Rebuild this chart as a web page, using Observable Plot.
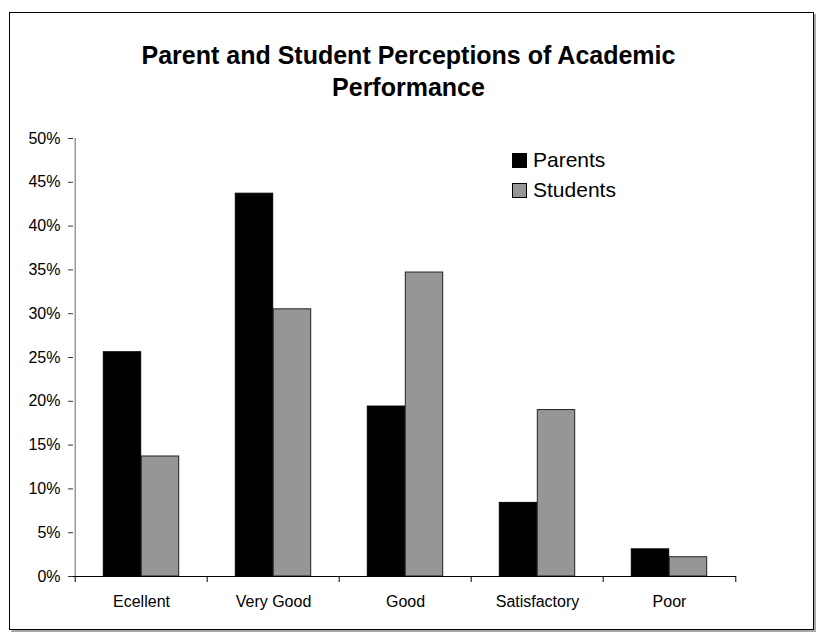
<!DOCTYPE html>
<html>
<head>
<meta charset="utf-8">
<script src="https://cdn.jsdelivr.net/npm/d3@7"></script>
<script src="https://cdn.jsdelivr.net/npm/@observablehq/plot@0.6"></script>
<style>
  html, body { margin: 0; padding: 0; background: #fff; }
  #wrap { position: relative; width: 817px; height: 634px; overflow: hidden; font-family: "Liberation Sans", Arial, sans-serif; }
  #border { position: absolute; left: 9px; top: 12px; width: 803px; height: 616px; border: 1.5px solid #000; box-shadow: 2px 2px 0 #a8a8a8; }
  #title { position: absolute; left: 0; width: 817px; top: 39px; text-align: center; font-weight: bold; font-size: 25px; line-height: 32px; color: #000; }
  #chart { position: absolute; left: 0; top: 0; }
  .leg { position: absolute; left: 512px; font-size: 21px; line-height: 22px; color: #000; display: flex; align-items: center; }
  .sw { width: 15px; height: 15px; border: 1px solid #000; margin-right: 6px; box-sizing: border-box; }
</style>
</head>
<body>
<div id="wrap">
  <div id="border"></div>
  <div id="title">Parent and Student Perceptions of Academic<br>Performance</div>
  <div id="chart"></div>
  <div class="leg" style="top:149px"><div class="sw" style="background:#000"></div>Parents</div>
  <div class="leg" style="top:179px"><div class="sw" style="background:#969696"></div>Students</div>
</div>
<script>
const categories = ["Ecellent", "Very Good", "Good", "Satisfactory", "Poor"];
const parents = [25.6, 43.7, 19.4, 8.4, 3.1];
const students = [13.7, 30.5, 34.7, 19.0, 2.2];
const yTicks = [0, 5, 10, 15, 20, 25, 30, 35, 40, 45, 50];

const parentRows = categories.map((c, i) => ({category: c, value: parents[i]}));
const studentRows = categories.map((c, i) => ({category: c, value: students[i]}));

const W = 817, H = 634;
const mL = 73, mR = 81, mT = 138, mB = 58;
const band = (W - mL - mR) / categories.length;
const barW = 38;

const chart = Plot.plot({
  width: W,
  height: H,
  marginLeft: mL,
  marginRight: mR,
  marginTop: mT,
  marginBottom: mB,
  style: {fontFamily: "'Liberation Sans', Arial, sans-serif", fontSize: "16px", color: "#000", background: "transparent", overflow: "visible"},
  x: {type: "band", domain: categories, padding: 0, label: null},
  y: {domain: [0, 50], label: null},
  marks: [
    Plot.ruleX([0], {x: () => categories[0], dx: -band / 2, y1: 0, y2: 50, stroke: "#808080", strokeWidth: 1.2}),
    Plot.axisY({ticks: yTicks, tickFormat: d => d + "%", tickSize: 5, tickPadding: 8, stroke: "#333", label: null, fontSize: 16}),
    Plot.axisX({tickSize: 0, tickPadding: 19, label: null, fontSize: 16}),
    Plot.barY(parentRows, {x: "category", y: "value", fill: "#000", stroke: "#000", strokeWidth: 1, insetLeft: band / 2 - barW, insetRight: band / 2}),
    Plot.barY(studentRows, {x: "category", y: "value", fill: "#969696", stroke: "#222", strokeWidth: 1, insetLeft: band / 2, insetRight: band / 2 - barW}),
    Plot.ruleY([0], {stroke: "#000", strokeWidth: 1}),
    Plot.ruleX(categories, {x: d => d, dx: -band / 2, y1: 0, y2: 0, insetBottom: -6, stroke: "#000"}),
    Plot.ruleX([categories[categories.length - 1]], {x: d => d, dx: band / 2, y1: 0, y2: 0, insetBottom: -6, stroke: "#000"})
  ]
});
document.getElementById("chart").appendChild(chart);
</script>
</body>
</html>
